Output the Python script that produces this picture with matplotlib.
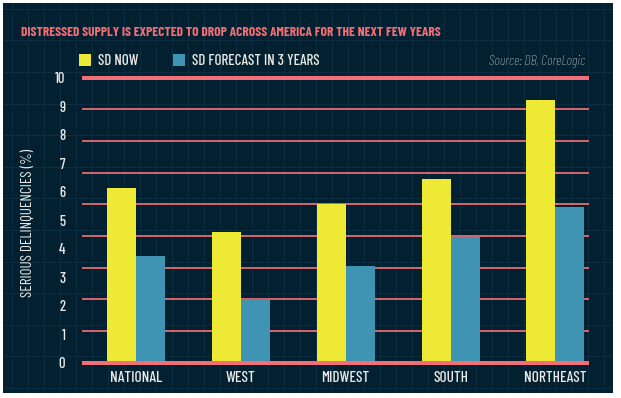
import matplotlib
matplotlib.use("Agg")
import matplotlib.pyplot as plt
from matplotlib.patches import Patch
import numpy as np

categories = ["NATIONAL", "WEST", "MIDWEST", "SOUTH", "NORTHEAST"]
sd_now = [6.12, 4.59, 5.57, 6.45, 9.22]
sd_forecast = [3.74, 2.23, 3.39, 4.41, 5.47]
y_ticks = list(range(0, 11))
series_names = ["SD NOW", "SD FORECAST IN 3 YEARS"]
title = "DISTRESSED SUPPLY IS EXPECTED TO DROP ACROSS AMERICA FOR THE NEXT FEW YEARS"
source = "Source: DB, CoreLogic"
ylabel = "SERIOUS DELINQUENCIES (%)"

BG = "#02202f"
FAINT = "#0a2e3f"
YELLOW = "#ede935"
TEAL = "#3f94b4"
CORAL = "#f26f77"
TXT = "#eceae6"

FONT = ["Barlow Condensed", "DejaVu Sans"]
plt.rcParams["font.family"] = FONT

W, H = 621, 398
fig = plt.figure(figsize=(W / 100, H / 100), dpi=100, facecolor="white")

# dark panel with faint background grid
bg = fig.add_axes([3 / W, 5 / H, 610 / W, 390 / H])
bg.set_facecolor(BG)
bg.set_xlim(0, 610)
bg.set_ylim(0, 390)
for xv in np.arange(9, 610, 16):
    bg.axvline(xv, color=FAINT, lw=0.8, zorder=0)
for yv in np.arange(5, 390, 31.6):
    bg.axhline(yv, color=FAINT, lw=0.8, zorder=0)
bg.set_xticks([])
bg.set_yticks([])
for s in bg.spines.values():
    s.set_visible(False)

ax = fig.add_axes([82 / W, (H - 362.7) / H, 507 / W, 285 / H])
ax.set_facecolor("none")
x = np.arange(len(categories))
w = 0.2765
ax.set_xlim(-0.515, 4.32)
ax.set_ylim(0, 10)

# horizontal rules: 9 equal intervals across the 0-10 range
for k in range(10):
    yv = k * 10 / 9 if k < 9 else 10
    lw = 2.9 if k in (0, 9) else 1.25
    ax.axhline(yv, color=CORAL, lw=lw, zorder=5 if k == 0 else 1,
               clip_on=False, solid_capstyle="butt")

ax.bar(x - w / 2, sd_now, width=w, color=YELLOW, zorder=3, label=series_names[0])
ax.bar(x + w / 2, sd_forecast, width=w, color=TEAL, zorder=3, label=series_names[1])

ax.set_yticks(y_ticks)
ax.set_yticklabels([str(t) for t in y_ticks], color=TXT, fontsize=10.5, fontweight="medium")
ax.set_xticks(x)
ax.set_xticklabels(categories, color=TXT, fontsize=11, fontweight="medium")
ax.tick_params(axis="y", length=0, pad=12)
ax.tick_params(axis="x", length=0, pad=6)
for s in ax.spines.values():
    s.set_visible(False)

ax.text(-0.1065, 0.49, ylabel, transform=ax.transAxes, rotation=90,
        ha="center", va="center", color=TXT, fontsize=10.8)

fig.text(21 / W, (H - 33) / H, title, color=CORAL, fontsize=9.7,
         fontweight="bold", ha="left", va="center")

fig.text(585 / W, (H - 61) / H, source, color="#c8d2da", fontsize=10,
         style="italic", fontweight="light", ha="right", va="center")

handles = [Patch(facecolor=YELLOW), Patch(facecolor=TEAL)]
leg = fig.legend(handles, series_names, loc="center left",
                 bbox_to_anchor=(79 / W, (H - 61) / H), ncol=2, frameon=False,
                 borderpad=0, borderaxespad=0, handlelength=0.8, handleheight=0.8,
                 handletextpad=0.45, columnspacing=2.3,
                 prop={"family": FONT, "size": 10.8, "weight": "medium"})
for t in leg.get_texts():
    t.set_color(TXT)

fig.savefig("out.png", dpi=100, facecolor="white")
